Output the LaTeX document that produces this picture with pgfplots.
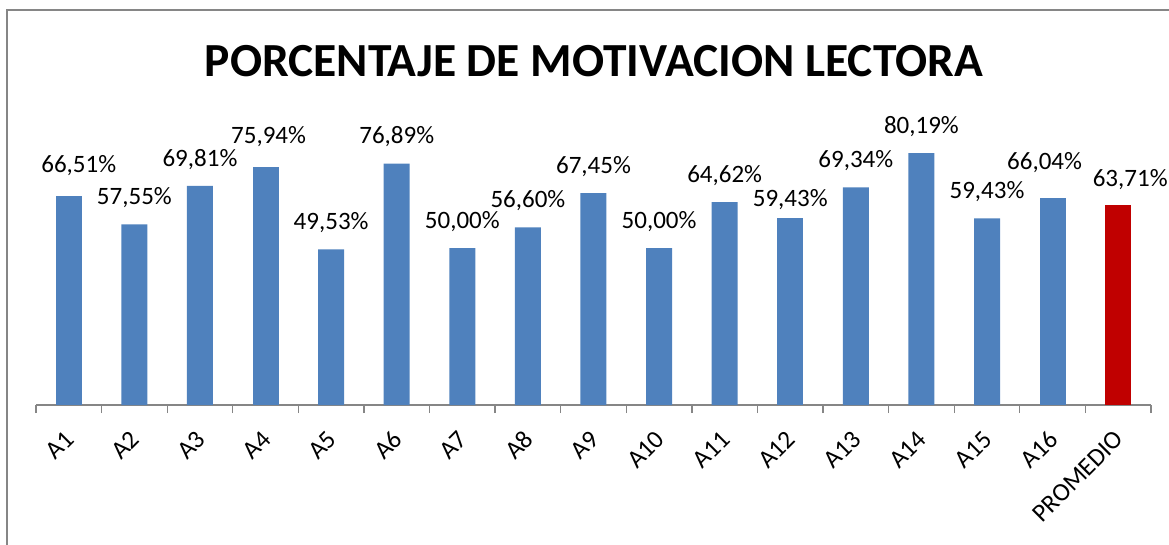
\documentclass[border=0pt]{standalone}
\usepackage{pgfplots}
\pgfplotsset{compat=1.18}
\usepackage{fontspec}
\setmainfont{Carlito}
\definecolor{barblue}{HTML}{4F81BD}
\definecolor{barred}{HTML}{C00000}
\definecolor{axgray}{HTML}{868686}
\pgfplotstableread{
x y label
1 57.55 57,55
2 69.81 69,81
4 49.53 49,53
5 76.89 76,89
6 50.00 50,00
7 56.60 56,60
8 67.45 67,45
9 50.00 50,00
10 64.62 64,62
12 69.34 69,34
13 80.19 80,19
14 59.43 59,43
}\students
\begin{document}
\begin{tikzpicture}
\path[use as bounding box] (0,0) rectangle (1169pt,-544pt);
\draw[axgray, line width=1.5pt] (7pt,-560pt) -- (7pt,-10pt) -- (1180pt,-10pt);
\node[anchor=base, inner sep=0pt, font=\fontsize{47.5}{56}\selectfont\bfseries] at (594pt,-76pt) {PORCENTAJE DE MOTIVACION LECTORA};
\begin{axis}[
  at={(36pt,-405pt)}, anchor=south west,
  scale only axis, width=1115pt, height=314pt,
  xmin=-0.5, xmax=16.5, ymin=0, ymax=100,
  axis x line*=bottom, axis y line=none,
  axis line style={axgray, line width=1.5pt},
  x axis line style={-},
  clip=false,
  xtick={0,...,16},
  xticklabels={A1,A2,A3,A4,A5,A6,A7,A8,A9,A10,A11,A12,A13,A14,A15,A16,PROMEDIO},
  major tick length=0pt,
  minor xtick={-0.5,0.5,...,16.5},
  minor tick length=8pt,
  tick align=outside,
  x tick style={axgray, line width=1.3pt},
  xticklabel style={font=\fontsize{25.5}{30}\selectfont, inner sep=0pt, xshift=1pt, yshift=-30pt, rotate=45, anchor=east},
  every node near coord/.append style={font=\fontsize{25}{30}\selectfont, anchor=base, inner sep=0pt, text=black},
  nodes near coords={\pgfplotspointmeta\%},
  point meta=explicit symbolic,
  lbl/.style 2 args={every node near coord/.append style={xshift=#1, yshift=#2}},
]
\addplot[ybar, bar width=26pt, bar shift=0pt, fill=barblue, draw=none, lbl={0pt}{19.8pt}] table[x=x, y=y, meta=label] {\students};
\addplot[ybar, bar width=26pt, bar shift=0pt, fill=barblue, draw=none, lbl={10pt}{24pt}] coordinates {(0,66.51) [66,51]};
\addplot[ybar, bar width=26pt, bar shift=0pt, fill=barblue, draw=none, lbl={3pt}{23pt}] coordinates {(3,75.94) [75,94]};
\addplot[ybar, bar width=26pt, bar shift=0pt, fill=barblue, draw=none, lbl={0pt}{12pt}] coordinates {(11,59.43) [59,43]};
\addplot[ybar, bar width=26pt, bar shift=0pt, fill=barblue, draw=none, lbl={-8pt}{28pt}] coordinates {(15,66.04) [66,04]};
\addplot[ybar, bar width=26pt, bar shift=0pt, fill=barred, draw=none, lbl={12pt}{18pt}] coordinates {(16,63.71) [63,71]};
\end{axis}
\end{tikzpicture}
\end{document}
